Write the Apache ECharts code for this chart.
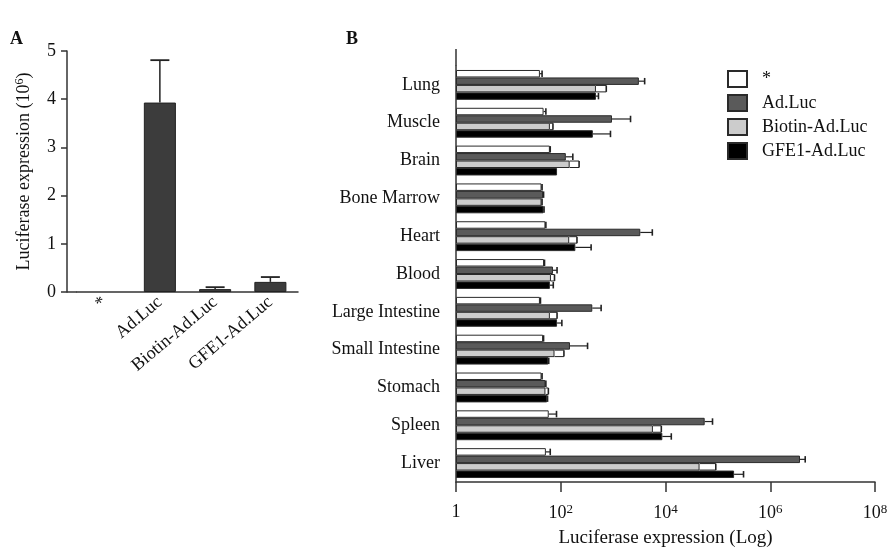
<!DOCTYPE html>
<html><head><meta charset="utf-8">
<script src="https://cdn.jsdelivr.net/npm/echarts@6/dist/echarts.min.js"></script>
<style>html,body{margin:0;padding:0;background:#fff}#c{width:893px;height:553px}</style>
</head><body><div id="c"></div>
<script>
// Panel A
const catsA = ['*', 'Ad.Luc', 'Biotin-Ad.Luc', 'GFE1-Ad.Luc'];
const valsA = [0, 3.93, 0.06, 0.21];
const errA = [0, 0.88, 0.04, 0.10];
const ticksA = [0, 1, 2, 3, 4, 5];

// Panel B
const organs = ['Lung', 'Muscle', 'Brain', 'Bone Marrow', 'Heart', 'Blood', 'Large Intestine', 'Small Intestine', 'Stomach', 'Spleen', 'Liver'];
const seriesNames = ['*', 'Ad.Luc', 'Biotin-Ad.Luc', 'GFE1-Ad.Luc'];
const ctrlVals = [40, 47, 62, 43, 51, 48, 40, 46, 43, 59, 52];
const ctrlErr = [4, 5, 1, 1, 1, 1, 1, 1, 1, 24, 11];
const adVals = [3100, 950, 125, 46, 3300, 71, 400, 150, 51, 56000, 3700000];
const adErr = [900, 1200, 45, 1, 2300, 14, 190, 175, 1, 23000, 950000];
const bioVals = [470, 62, 148, 43, 145, 65, 62, 76, 51, 5750, 44700];
const bioErr = [270, 9, 76, 1, 59, 11, 23, 39, 7, 2570, 46500];
const gfeVals = [470, 410, 85, 47, 190, 62, 85, 58, 55, 8700, 204000];
const gfeErr = [55, 480, 0, 1, 190, 10, 20, 1, 1, 4200, 105000];
const logTicks = [1, 1e2, 1e4, 1e6, 1e8];

const FONT = '"Liberation Serif", "Times New Roman", serif';
const TXT = '#111';
const AX = '#333';
const colors = ['#ffffff', '#5a5a5a', '#cccccc', '#000000'];
const valsB = [ctrlVals, adVals, bioVals, gfeVals];
const errsB = [ctrlErr, adErr, bioErr, gfeErr];
const GAP = 0.21;

function renderErrA(params, api) {
  const cat = api.value(0), top = api.value(1), end = api.value(2);
  const p0 = api.coord([cat, top]), p1 = api.coord([cat, end]);
  const hw = 9.5;
  return {type: 'group', children: [
    {type: 'line', shape: {x1: p0[0], y1: p0[1], x2: p1[0], y2: p1[1]}, style: {stroke: '#222', lineWidth: 1.5}},
    {type: 'line', shape: {x1: p1[0] - hw, y1: p1[1], x2: p1[0] + hw, y2: p1[1]}, style: {stroke: '#222', lineWidth: 1.8}}
  ]};
}
function renderErrB(params, api) {
  const end = api.value(0), cat = api.value(1), start = api.value(2), s = api.value(3);
  const band = api.size([0, 1])[1];
  const total = band * (1 - GAP);
  const bw = total / 4;
  const off = -total / 2 + (s + 0.5) * bw;
  const p0 = api.coord([start, cat]);
  const p1 = api.coord([end, cat]);
  const y = p0[1] + off;
  const h = bw / 2 - 0.5;
  const ch = [];
  if (s === 2) {
    ch.push({type: 'line', shape: {x1: p0[0], y1: y - h, x2: p1[0], y2: y - h}, style: {stroke: '#222', lineWidth: 1}});
    ch.push({type: 'line', shape: {x1: p0[0], y1: y + h, x2: p1[0], y2: y + h}, style: {stroke: '#222', lineWidth: 1}});
  } else {
    ch.push({type: 'line', shape: {x1: p0[0], y1: y, x2: p1[0], y2: y}, style: {stroke: '#222', lineWidth: 1.2}});
  }
  ch.push({type: 'line', shape: {x1: p1[0], y1: y - h, x2: p1[0], y2: y + h}, style: {stroke: '#222', lineWidth: 1.6}});
  return {type: 'group', children: ch};
}

const series = [];
series.push({
  type: 'bar', name: 'A', xAxisIndex: 0, yAxisIndex: 0,
  data: valsA.map(v => v === 0 ? {value: v, itemStyle: {borderWidth: 0}} : v),
  barCategoryGap: '42%',
  itemStyle: {color: '#3c3c3c', borderColor: '#222', borderWidth: 1},
  silent: true
});
series.push({
  type: 'custom', name: 'errA', xAxisIndex: 0, yAxisIndex: 0,
  data: valsA.map((v, i) => [i, v, v + errA[i]]).filter(d => d[2] > d[1]),
  encode: {x: 0, y: [1, 2]},
  renderItem: renderErrA, z: 5, silent: true
});
for (let s = 0; s < 4; s++) {
  series.push({
    type: 'bar', name: seriesNames[s], xAxisIndex: 1, yAxisIndex: 1,
    data: valsB[s], barGap: '0%', barCategoryGap: (GAP * 100) + '%',
    itemStyle: {color: colors[s], borderColor: '#2a2a2a', borderWidth: 1},
    silent: true
  });
}
const errData = [];
for (let s = 0; s < 4; s++) {
  for (let i = 0; i < organs.length; i++) {
    if (errsB[s][i] > 0) errData.push([valsB[s][i] + errsB[s][i], i, valsB[s][i], s]);
  }
}
series.push({
  type: 'custom', name: 'errB', xAxisIndex: 1, yAxisIndex: 1,
  data: errData, encode: {x: 0, y: 1},
  renderItem: renderErrB, z: 5, silent: true
});

const chart = echarts.init(document.getElementById('c'), null, {renderer: 'canvas'});
chart.setOption({
  animation: false,
  backgroundColor: '#fff',
  textStyle: {fontFamily: FONT, color: TXT},
  title: [
    {text: 'A', left: 10, top: 30, padding: 0, textStyle: {fontFamily: FONT, fontWeight: 'bold', fontSize: 18, color: TXT}},
    {text: 'B', left: 346, top: 30, padding: 0, textStyle: {fontFamily: FONT, fontWeight: 'bold', fontSize: 18, color: TXT}}
  ],
  legend: {
    data: seriesNames, orient: 'vertical', left: 727, top: 70, padding: 0,
    itemWidth: 19, itemHeight: 16, itemGap: 6, icon: 'rect', selectedMode: false,
    textStyle: {fontFamily: FONT, fontSize: 18, color: TXT, padding: [0, 0, 0, 10]}
  },
  grid: [
    {left: 77, top: 51, width: 221, height: 241, containLabel: false},
    {left: 456, top: 66, width: 419, height: 417, containLabel: false}
  ],
  xAxis: [
    {
      type: 'category', gridIndex: 0, data: catsA,
      axisLine: {lineStyle: {color: AX, width: 1.5}},
      axisTick: {show: false},
      axisLabel: {rotate: 40, margin: 8, fontSize: 18, fontFamily: FONT, color: TXT, interval: 0}
    },
    {
      type: 'log', gridIndex: 1, logBase: 10, min: 1, max: 1e8, interval: 2,
      name: 'Luciferase expression (Log)', nameLocation: 'middle', nameGap: 47,
      nameTextStyle: {fontSize: 19, fontFamily: FONT, color: TXT},
      axisLine: {show: true, lineStyle: {color: AX, width: 1.5}},
      axisTick: {show: true, length: 10, inside: false, lineStyle: {color: AX, width: 1.5}},
      minorTick: {show: false},
      splitLine: {show: false},
      axisLabel: {
        margin: 21, fontSize: 18, fontFamily: FONT, color: TXT,
        formatter: function (v) {
          if (logTicks.indexOf(v) < 0) return '';
          const e = Math.round(Math.log10(v));
          return e === 0 ? '1' : '{b|10}{s|' + e + '}';
        },
        rich: {
          b: {fontSize: 18, fontFamily: FONT, color: TXT},
          s: {fontSize: 13, fontFamily: FONT, color: TXT, verticalAlign: 'top', padding: [0, 0, 8, 0]}
        }
      }
    }
  ],
  yAxis: [
    {
      type: 'value', gridIndex: 0, min: 0, max: 5, interval: 1, offset: 10,
      name: 'Luciferase expression (10{s|6})', nameLocation: 'middle', nameGap: 33, nameRotate: 90,
      nameTextStyle: {
        fontSize: 18, fontFamily: FONT, color: TXT,
        rich: {s: {fontSize: 12, fontFamily: FONT, color: TXT, verticalAlign: 'top', padding: [0, 0, 8, 0]}}
      },
      axisLine: {show: true, lineStyle: {color: AX, width: 1.5}},
      axisTick: {show: true, length: 6, lineStyle: {color: AX, width: 1.5}},
      splitLine: {show: false},
      axisLabel: {margin: 11, fontSize: 18, fontFamily: FONT, color: TXT,
        formatter: v => ticksA.indexOf(v) >= 0 ? String(v) : ''}
    },
    {
      type: 'category', gridIndex: 1, data: organs, inverse: true,
      axisLine: {show: true, lineStyle: {color: AX, width: 1.5}},
      axisTick: {show: false},
      axisLabel: {margin: 16, fontSize: 18, fontFamily: FONT, color: TXT, interval: 0}
    }
  ],
  graphic: [
    {type: 'line', shape: {x1: 67, y1: 292, x2: 77, y2: 292}, style: {stroke: AX, lineWidth: 1.5}, silent: true},
    {type: 'line', shape: {x1: 456, y1: 49, x2: 456, y2: 66}, style: {stroke: AX, lineWidth: 1.5}, silent: true}
  ],
  series: series
});
</script></body></html>
